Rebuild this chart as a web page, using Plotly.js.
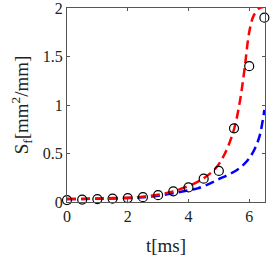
<!DOCTYPE html>
<html>
<head>
<meta charset="utf-8">
<script src="https://cdn.plot.ly/plotly-3.0.1.min.js"></script>
<style>html,body{margin:0;padding:0;background:#fff;}#chart{width:270px;height:256px;}</style>
</head>
<body>
<div id="chart"></div>
<script>
// Measured points (open circles)
var measT = [0, 0.5, 1, 1.5, 2, 2.5, 3, 3.5, 4, 4.5, 5, 5.5, 6, 6.5];
var measS = [0.02, 0.025, 0.03, 0.035, 0.04, 0.05, 0.07, 0.11, 0.15, 0.24, 0.32, 0.76, 1.40, 1.90];
// Red dashed model
var redT = [0, 0.5, 1, 1.5, 2, 2.5, 3, 3.5, 4, 4.5, 4.9, 5.2, 5.5, 5.7, 5.85, 6.0, 6.13, 6.25, 6.35, 6.45, 6.5];
var redS = [0.03, 0.032, 0.035, 0.04, 0.045, 0.055, 0.075, 0.11, 0.165, 0.245, 0.35, 0.5, 0.75, 1.05, 1.38, 1.75, 1.91, 1.97, 2.0, 2.01, 2.02];
// Blue dashed model
var blueT = [0, 0.5, 1, 1.5, 2, 2.5, 3, 3.5, 4, 4.3, 4.7, 5.0, 5.3, 5.6, 5.8, 6.0, 6.2, 6.35, 6.5];
var blueS = [0.03, 0.032, 0.034, 0.037, 0.04, 0.05, 0.065, 0.09, 0.12, 0.14, 0.19, 0.235, 0.28, 0.33, 0.38, 0.45, 0.56, 0.69, 0.95];
var xTicks = [0, 2, 4, 6];
var xTickText = ['0', '2', '4', '6'];
var yTicks = [0, 0.5, 1, 1.5, 2];
var yTickText = ['0', '0.5', '1', '1.5', '2'];

var traces = [
  {x: blueT, y: blueS, mode: 'lines', line: {color: '#0000ff', width: 2.5, dash: '9px,5px', shape: 'spline'}, hoverinfo: 'skip'},
  {x: redT, y: redS, mode: 'lines', line: {color: '#ff0000', width: 2.5, dash: '9px,5px', shape: 'spline'}, hoverinfo: 'skip'},
  {x: measT, y: measS, mode: 'markers', marker: {symbol: 'circle-open', size: 9, color: '#000', line: {width: 1.2, color: '#000'}}, cliponaxis: false}
];

var font = {family: '"Liberation Serif", "Times New Roman", serif', size: 16, color: '#222'};
var layout = {
  width: 270, height: 256,
  margin: {l: 67, r: 5, t: 8, b: 54},
  paper_bgcolor: '#fff', plot_bgcolor: '#fff',
  showlegend: false,
  font: font,
  xaxis: {
    range: [0, 6.52], tickvals: xTicks, ticktext: xTickText,
    ticks: 'inside', ticklen: 3, tickcolor: '#555', showline: true, linecolor: '#555', linewidth: 1,
    mirror: 'ticks', showgrid: false, zeroline: false, tickfont: font, ticklabeloverflow: 'allow',
    title: {text: 't[ms]', font: {family: font.family, size: 19, color: '#222'}, standoff: 14}
  },
  yaxis: {
    range: [0, 2], tickvals: yTicks, ticktext: yTickText,
    ticks: 'inside', ticklen: 3, tickcolor: '#555', showline: true, linecolor: '#555', linewidth: 1,
    mirror: 'ticks', showgrid: false, zeroline: false, tickfont: font, ticklabeloverflow: 'allow',
    title: {text: 'S<sub>f</sub>[mm<sup>2</sup>/mm]', font: {family: font.family, size: 19, color: '#222'}, standoff: 9}
  }
};
Plotly.newPlot('chart', traces, layout, {displayModeBar: false, staticPlot: true});
</script>
</body>
</html>
